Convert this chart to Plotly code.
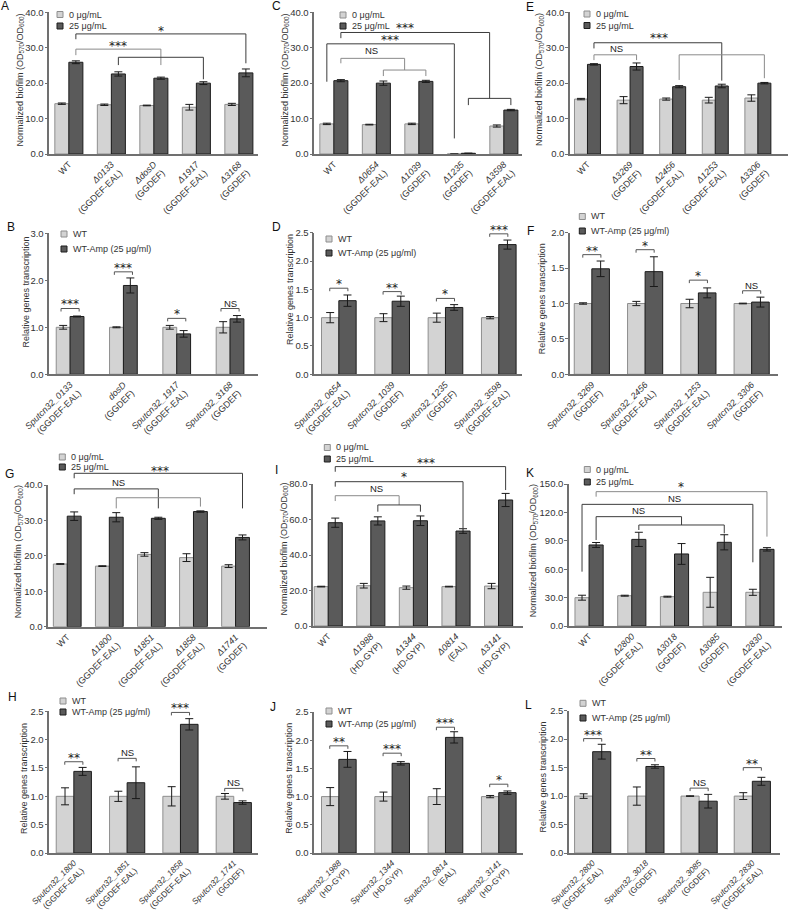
import plotly.graph_objects as go

W, H = 798, 912
FONT = "Arial, 'Liberation Sans', Helvetica, sans-serif"
STAR_FONT = "'DejaVu Sans', Arial, sans-serif"

# ---------------- data ----------------
A_labels = ["WT", "<i>Δ0133</i><br>(GGDEF-EAL)", "<i>ΔdosD</i><br>(GGDEF)",
            "<i>Δ1917</i><br>(GGDEF-EAL)", "<i>Δ3168</i><br>(GGDEF)"]
A_0 = [14.2, 13.9, 13.7, 13.2, 14.0]
A_0_err = [0.2, 0.2, 0.1, 0.8, 0.3]
A_25 = [25.9, 22.6, 21.4, 20.0, 22.9]
A_25_err = [0.4, 0.6, 0.3, 0.4, 1.1]

B_labels = ["<i>Sputcn32_0133</i><br>(GGDEF-EAL)", "<i>dosD</i><br>(GGDEF)",
            "<i>Sputcn32_1917</i><br>(GGDEF-EAL)", "<i>Sputcn32_3168</i><br>(GGDEF)"]
B_wt = [1.0, 1.0, 1.0, 1.0]
B_wt_err = [0.04, 0.01, 0.04, 0.12]
B_amp = [1.23, 1.89, 0.86, 1.18]
B_amp_err = [0.01, 0.16, 0.07, 0.07]
B_sig = ["***", "***", "*", "NS"]

C_labels = ["WT", "<i>Δ0654</i><br>(GGDEF-EAL)", "<i>Δ1039</i><br>(GGDEF)",
            "<i>Δ1235</i><br>(GGDEF)", "<i>Δ3598</i><br>(GGDEF-EAL)"]
C_0 = [8.5, 8.3, 8.5, 0.0, 7.9]
C_0_err = [0.2, 0.1, 0.2, 0.0, 0.3]
C_25 = [20.7, 20.0, 20.5, 0.2, 12.4]
C_25_err = [0.3, 0.6, 0.3, 0.05, 0.2]

D_labels = ["<i>Sputcn32_0654</i><br>(GGDEF-EAL)", "<i>Sputcn32_1039</i><br>(GGDEF)",
            "<i>Sputcn32_1235</i><br>(GGDEF)", "<i>Sputcn32_3598</i><br>(GGDEF-EAL)"]
D_wt = [1.0, 1.0, 1.0, 1.0]
D_wt_err = [0.09, 0.07, 0.08, 0.02]
D_amp = [1.30, 1.29, 1.18, 2.29]
D_amp_err = [0.10, 0.09, 0.05, 0.08]
D_sig = ["*", "**", "*", "***"]

E_labels = ["WT", "<i>Δ3269</i><br>(GGDEF)", "<i>Δ2456</i><br>(GGDEF-EAL)",
            "<i>Δ1253</i><br>(GGDEF-EAL)", "<i>Δ3306</i><br>(GGDEF)"]
E_0 = [15.5, 15.2, 15.5, 15.2, 15.8]
E_0_err = [0.2, 1.0, 0.3, 0.8, 0.9]
E_25 = [25.3, 24.7, 19.0, 19.2, 20.0]
E_25_err = [0.2, 1.0, 0.3, 0.5, 0.2]

F_labels = ["<i>Sputcn32_3269</i><br>(GGDEF)", "<i>Sputcn32_2456</i><br>(GGDEF-EAL)",
            "<i>Sputcn32_1253</i><br>(GGDEF-EAL)", "<i>Sputcn32_3306</i><br>(GGDEF)"]
F_wt = [1.0, 1.0, 1.0, 1.0]
F_wt_err = [0.01, 0.03, 0.06, 0.005]
F_amp = [1.49, 1.45, 1.15, 1.02]
F_amp_err = [0.11, 0.21, 0.07, 0.07]
F_sig = ["**", "*", "*", "NS"]

G_labels = ["WT", "<i>Δ1800</i><br>(GGDEF-EAL)", "<i>Δ1851</i><br>(GGDEF-EAL)",
            "<i>Δ1858</i><br>(GGDEF-EAL)", "<i>Δ1741</i><br>(GGDEF)"]
G_0 = [17.7, 17.1, 20.4, 19.5, 17.1]
G_0_err = [0.1, 0.1, 0.5, 1.1, 0.4]
G_25 = [31.2, 30.9, 30.6, 32.5, 25.2]
G_25_err = [1.2, 1.3, 0.3, 0.2, 0.7]

H_labels = ["<i>Sputcn32_1800</i><br>(GGDEF-EAL)", "<i>Sputcn32_1851</i><br>(GGDEF-EAL)",
            "<i>Sputcn32_1858</i><br>(GGDEF-EAL)", "<i>Sputcn32_1741</i><br>(GGDEF)"]
H_wt = [1.0, 1.0, 1.0, 1.0]
H_wt_err = [0.15, 0.09, 0.17, 0.05]
H_amp = [1.44, 1.24, 2.27, 0.89]
H_amp_err = [0.07, 0.28, 0.10, 0.03]
H_sig = ["**", "NS", "***", "NS"]

I_labels = ["WT", "<i>Δ1988</i><br>(HD-GYP)", "<i>Δ1344</i><br>(HD-GYP)",
            "<i>Δ0814</i><br>(EAL)", "<i>Δ3141</i><br>(HD-GYP)"]
I_0 = [22.2, 22.7, 21.6, 22.2, 22.5]
I_0_err = [0.2, 1.3, 0.9, 0.2, 1.5]
I_25 = [58.2, 59.2, 59.3, 53.5, 71.0]
I_25_err = [2.6, 2.3, 2.7, 1.3, 3.7]

J_labels = ["<i>Sputcn32_1988</i><br>(HD-GYP)", "<i>Sputcn32_1344</i><br>(HD-GYP)",
            "<i>Sputcn32_0814</i><br>(EAL)", "<i>Sputcn32_3141</i><br>(HD-GYP)"]
J_wt = [1.0, 1.0, 1.0, 1.0]
J_wt_err = [0.16, 0.08, 0.14, 0.02]
J_amp = [1.66, 1.59, 2.05, 1.07]
J_amp_err = [0.14, 0.03, 0.10, 0.03]
J_sig = ["**", "***", "***", "*"]

K_labels = ["WT", "<i>Δ2800</i><br>(GGDEF-EAL)", "<i>Δ3018</i><br>(GGDEF)",
            "<i>Δ3085</i><br>(GGDEF)", "<i>Δ2830</i><br>(GGDEF-EAL)"]
K_0 = [29.9, 32.0, 31.0, 35.6, 35.6]
K_0_err = [2.6, 0.5, 0.5, 15.8, 3.2]
K_25 = [85.6, 91.5, 76.1, 88.4, 81.0]
K_25_err = [2.6, 7.5, 11.0, 8.0, 1.8]

L_labels = ["<i>Sputcn32_2800</i><br>(GGDEF-EAL)", "<i>Sputcn32_3018</i><br>(GGDEF)",
            "<i>Sputcn32_3085</i><br>(GGDEF)", "<i>Sputcn32_2830</i><br>(GGDEF-EAL)"]
L_wt = [1.0, 1.0, 1.0, 1.0]
L_wt_err = [0.04, 0.16, 0.005, 0.06]
L_amp = [1.78, 1.52, 0.91, 1.26]
L_amp_err = [0.13, 0.03, 0.12, 0.07]
L_sig = ["***", "**", "NS", "**"]

BIO_LEGEND = ["0 μg/mL", "25 μg/mL"]
TX_LEGEND = ["WT", "WT-Amp (25 μg/ml)"]
BIO_TITLE = "Normalized biofilm (OD<sub>570</sub>/OD<sub>600</sub>)"
TX_TITLE = "Relative genes transcription"

# ---------------- styles ----------------
LIGHT, LIGHT_LINE = "#d3d3d3", "#8e8e8e"
DARK, DARK_LINE = "#5a5a5a", "#1c1c1c"
AXIS = "#707070"
TXT = "#333333"
ERR = "#1a1a1a"
BK, BG = "#3c3c3c", "#8a8a8a"

# ---------------- panel layout (pixel geometry) ----------------
panels = [
    dict(letter=("A", 5, 6), kind="bio", labels=A_labels, v=(A_0, A_0_err, A_25, A_25_err),
         dom=(49.3, 258.0, 12.3, 154.0), xr=(-0.46, 4.45), bw=0.33, ymax=40, dtick=10,
         leg=(57, 14.5, 26.0), xfont=9, ytitle=(19.5, 80),
         brackets=[([(0, 1, 32.4), (0, 1, 33.9), (4, 1, 33.9), (4, 1, 25.6)], BK),
                   ([(0, 1, 27.9), (0, 1, 29.6), (2, 1, 29.6), (2, 1, 25.1)], BG),
                   ([(1, 1, 25.1), (1, 1, 27.3), (3, 1, 27.3), (3, 1, 21.1)], BK)],
         texts=[("*", 2.165, 35.5), ("***", 1.165, 31.3)]),
    dict(letter=("B", 11, 227), kind="tx", labels=B_labels, v=(B_wt, B_wt_err, B_amp, B_amp_err),
         dom=(49.3, 258.3, 233.3, 374.3), xr=(-0.39, 3.53), bw=0.26, ymax=3.0, dtick=1.0,
         leg=(61, 234, 249), xfont=9, ytitle=(25.0, 292.5),
         sig=B_sig, sig_y=[1.40, 2.18, 1.19, 1.40]),
    dict(letter=("C", 276, 6), kind="bio", labels=C_labels, v=(C_0, C_0_err, C_25, C_25_err),
         dom=(314.3, 521.7, 12.3, 154.0), xr=(-0.46, 4.42), bw=0.33, ymax=40, dtick=10,
         leg=(340, 15, 26), xfont=9, ytitle=(284.5, 80),
         brackets=[([(0, 1, 32.7), (0, 1, 34.3), (3.665, 0, 34.3), (3.665, 0, 15.7)], BK),
                   ([(3, 1, 13.8), (3, 1, 15.7), (4, 1, 15.7), (4, 1, 13.8)], BK),
                   ([(0, -1, 20.4), (0, -1, 31.1), (3, -1, 31.1), (3, -1, 4.4)], BK),
                   ([(0, 1, 25.6), (0, 1, 27.0), (1.665, 0, 27.0), (1.665, 0, 23.7)], BG),
                   ([(1, 1, 22.0), (1, 1, 23.7), (2, 1, 23.7), (2, 1, 22.0)], BG)],
         texts=[("***", 1.67, 36.4), ("***", 1.32, 32.9), ("NS", 0.89, 29.2)]),
    dict(letter=("D", 276, 227), kind="tx", labels=D_labels, v=(D_wt, D_wt_err, D_amp, D_amp_err),
         dom=(314.3, 521.7, 232.7, 374.3), xr=(-0.46, 3.43), bw=0.325, ymax=2.5, dtick=0.5,
         leg=(326, 239, 253), xfont=9, ytitle=(290.0, 290),
         sig=D_sig, sig_y=[1.52, 1.46, 1.34, 2.48]),
    dict(letter=("E", 530, 7), kind="bio", labels=E_labels, v=(E_0, E_0_err, E_25, E_25_err),
         dom=(570.0, 787.7, 12.3, 154.0), xr=(-0.41, 4.70), bw=0.305, ymax=40, dtick=10,
         leg=(584, 14, 25.5), xfont=9, ytitle=(539.0, 80),
         brackets=[([(0, 1, 29.8), (0, 1, 31.4), (3, 1, 31.4), (3, 1, 20.7)], BK),
                   ([(2, 1, 20.9), (2, 1, 28.0), (4, 1, 28.0), (4, 1, 21.4)], BG),
                   ([(0, 1, 26.5), (0, 1, 28.0), (1, 1, 28.0), (1, 1, 26.5)], BG)],
         texts=[("***", 1.67, 33.6), ("NS", 0.67, 29.8)]),
    dict(letter=("F", 530, 231), kind="tx", labels=F_labels, v=(F_wt, F_wt_err, F_amp, F_amp_err),
         dom=(570.0, 778.3, 232.7, 374.3), xr=(-0.41, 3.50), bw=0.33, ymax=2.0, dtick=0.5,
         leg=(579.3, 216.5, 231), xfont=9, ytitle=(542.3, 299),
         sig=F_sig, sig_y=[1.69, 1.76, 1.33, 1.18]),
    dict(letter=("G", 9, 474), kind="bio", labels=G_labels, v=(G_0, G_0_err, G_25, G_25_err),
         dom=(48.3, 266.7, 485.0, 626.7), xr=(-0.45, 4.74), bw=0.33, ymax=40, dtick=10,
         leg=(59.3, 457, 467), xfont=9, ytitle=(18.5, 551.7),
         brackets=[([(0, 1, 41.9), (0, 1, 43.3), (4, 1, 43.3), (4, 1, 33.4)], BK),
                   ([(0, 1, 37.4), (0, 1, 38.9), (2, 1, 38.9), (2, 1, 33.4)], BK),
                   ([(1, 1, 33.4), (1, 1, 36.4), (3, 1, 36.4), (3, 1, 33.9)], BG)],
         texts=[("***", 2.2, 44.9), ("NS", 1.21, 40.8)]),
    dict(letter=("H", 12, 697), kind="tx", labels=H_labels, v=(H_wt, H_wt_err, H_amp, H_amp_err),
         dom=(49.3, 258.3, 711.3, 853.0), xr=(-0.46, 3.46), bw=0.33, ymax=2.5, dtick=0.5,
         leg=(60, 701, 712), xfont=8.4, ytitle=(24.0, 779),
         sig=H_sig, sig_y=[1.61, 1.67, 2.48, 1.14]),
    dict(letter=("I", 276, 470), kind="bio", labels=I_labels, v=(I_0, I_0_err, I_25, I_25_err),
         dom=(313.3, 523.3, 484.0, 626.0), xr=(-0.35, 4.58), bw=0.33, ymax=80, dtick=20,
         leg=(324.3, 447.5, 459), xfont=9, ytitle=(283.5, 549),
         brackets=[([(0, 1, 86.9), (0, 1, 89.8), (4, 1, 89.8), (4, 1, 76.6)], BK),
                   ([(0, 1, 78.5), (0, 1, 81.3), (3, 1, 81.3), (3, 1, 55.0)], BK),
                   ([(0, 1, 70.4), (0, 1, 73.4), (1.665, 0, 73.4), (1.665, 0, 68.2)], BG),
                   ([(1, 1, 64.4), (1, 1, 68.2), (2, 1, 68.2), (2, 1, 64.4)], BK)],
         texts=[("***", 2.29, 93.5), ("*", 1.78, 85.4), ("NS", 1.14, 77.6)]),
    dict(letter=("J", 273, 707), kind="tx", labels=J_labels, v=(J_wt, J_wt_err, J_amp, J_amp_err),
         dom=(314.3, 523.3, 712.0, 853.0), xr=(-0.46, 3.46), bw=0.325, ymax=2.5, dtick=0.5,
         leg=(326, 711, 724), xfont=8.4, ytitle=(289.5, 778.3),
         sig=J_sig, sig_y=[1.90, 1.77, 2.23, 1.22]),
    dict(letter=("K", 530, 473), kind="bio", labels=K_labels, v=(K_0, K_0_err, K_25, K_25_err),
         dom=(569.0, 781.7, 484.0, 626.0), xr=(-0.47, 4.51), bw=0.33, ymax=150, dtick=30,
         leg=(584.3, 469.5, 482), xfont=9, ytitle=(533.5, 550.7),
         brackets=[([(0, 1, 136.6), (0, 1, 141.9), (4, 1, 141.9), (4, 1, 94.4)], BG),
                   ([(0, -1, 57.4), (0, -1, 128.5), (4, -1, 128.5), (4, -1, 67.3)], BK),
                   ([(0, 1, 90.8), (0, 1, 115.5), (2.165, 0, 115.5), (2.165, 0, 106.7)], BK),
                   ([(1, 1, 101.4), (1, 1, 106.7), (3, 1, 106.7), (3, 1, 97.9)], BK)],
         texts=[("*", 2.15, 150.5), ("NS", 2.01, 135.0), ("NS", 1.155, 122.5)]),
    dict(letter=("L", 528, 705), kind="tx", labels=L_labels, v=(L_wt, L_wt_err, L_amp, L_amp_err),
         dom=(569.0, 780.0, 710.7, 853.0), xr=(-0.445, 3.52), bw=0.34, ymax=2.5, dtick=0.5,
         leg=(580, 703.3, 718), xfont=8.4, ytitle=(542, 777.5),
         sig=L_sig, sig_y=[2.01, 1.66, 1.14, 1.50]),
]


def px_x(p, x):
    x0, x1, _, _ = p["dom"]
    r0, r1 = p["xr"]
    return x0 + (x - r0) / (r1 - r0) * (x1 - x0)


def px_y(p, y):
    _, _, y0, y1 = p["dom"]
    return y1 - y / p["ymax"] * (y1 - y0)


def ppx(px):
    return px / W


def ppy(py):
    return 1 - py / H


fig = go.Figure()
layout = dict(
    width=W, height=H, template="none", showlegend=False,
    margin=dict(l=0, r=0, t=0, b=0),
    paper_bgcolor="white", plot_bgcolor="rgba(0,0,0,0)",
    font=dict(family=FONT, color=TXT, size=9),
)
shapes = []
annotations = []


def add_text(txt, cx_px, cy_px):
    star = "*" in txt
    annotations.append(dict(
        text=txt, x=ppx(cx_px), y=ppy(cy_px + (3.0 if star else 0)),
        xref="paper", yref="paper", xanchor="center", yanchor="middle",
        showarrow=False,
        font=dict(size=12 if star else 9.5, color="#222222",
                  family=STAR_FONT if star else FONT)))


for k, p in enumerate(panels, start=1):
    xa = "x" if k == 1 else f"x{k}"
    ya = "y" if k == 1 else f"y{k}"
    n = len(p["labels"])
    xs = list(range(n))
    v0, e0, v1, e1 = p["v"]
    names = BIO_LEGEND if p["kind"] == "bio" else TX_LEGEND
    bw = p["bw"]

    fig.add_trace(go.Bar(
        x=xs, y=v0, width=bw, offset=-bw, name=names[0], xaxis=xa, yaxis=ya,
        marker=dict(color=LIGHT, line=dict(color=LIGHT_LINE, width=1)),
        error_y=dict(type="data", array=e0, color=ERR, thickness=1, width=4)))
    fig.add_trace(go.Bar(
        x=xs, y=v1, width=bw, offset=0, name=names[1], xaxis=xa, yaxis=ya,
        marker=dict(color=DARK, line=dict(color=DARK_LINE, width=1)),
        error_y=dict(type="data", array=e1, color=ERR, thickness=1, width=4)))

    x0, x1, y0, y1 = p["dom"]
    ntick = int(round(p["ymax"] / p["dtick"]))
    yt = [i * p["dtick"] for i in range(ntick + 1)]
    layout["xaxis" if k == 1 else f"xaxis{k}"] = dict(
        domain=[ppx(x0), ppx(x1)], range=list(p["xr"]), anchor=ya,
        showline=True, linecolor=AXIS, linewidth=1.5, ticks="",
        tickvals=xs, ticktext=p["labels"], tickangle=-45,
        tickfont=dict(size=p["xfont"], color=TXT, family=FONT),
        showgrid=False, zeroline=False, automargin=False)
    layout["yaxis" if k == 1 else f"yaxis{k}"] = dict(
        domain=[ppy(y1), ppy(y0)], range=[0, p["ymax"]], anchor=xa,
        showline=True, linecolor=AXIS, linewidth=1.5,
        ticks="outside", ticklen=3, tickcolor=AXIS, tickwidth=1, ticklabelstandoff=-1,
        tickvals=yt, tickformat=".1f",
        tickfont=dict(size=9.5, color=TXT, family=FONT),
        showgrid=False, zeroline=False, automargin=False)

    # y-axis title (rotated text)
    tx_, ty_ = p["ytitle"]
    annotations.append(dict(text=BIO_TITLE if p["kind"] == "bio" else TX_TITLE,
                            x=ppx(tx_), y=ppy(ty_), xref="paper", yref="paper",
                            xanchor="center", yanchor="middle", textangle=-90,
                            showarrow=False, font=dict(size=9, color=TXT, family=FONT)))

    # panel letter
    lt, lx, ly = p["letter"]
    annotations.append(dict(text=lt, x=ppx(lx), y=ppy(ly), xref="paper", yref="paper",
                            xanchor="center", yanchor="middle", showarrow=False,
                            font=dict(size=12, color="#111111", family=FONT)))

    # legend (squares + labels)
    sx, ly1, ly2 = p["leg"]
    for j, (yy, col, lcol) in enumerate([(ly1, LIGHT, LIGHT_LINE), (ly2, DARK, DARK_LINE)]):
        shapes.append(dict(type="rect", xref="paper", yref="paper",
                           x0=ppx(sx), x1=ppx(sx + 6), y0=ppy(yy + 3), y1=ppy(yy - 3),
                           fillcolor=col, line=dict(color=lcol, width=1)))
        annotations.append(dict(text=names[j], x=ppx(sx + 10), y=ppy(yy), xref="paper",
                                yref="paper", xanchor="left", yanchor="middle",
                                showarrow=False, font=dict(size=9, color=TXT, family=FONT)))

    if p["kind"] == "bio":
        for pts, col in p["brackets"]:
            coords = []
            for cat, side, yv in pts:
                xv = cat + side * bw / 2
                coords.append((ppx(px_x(p, xv)), ppy(px_y(p, yv))))
            path = "M " + " L ".join(f"{a:.5f},{b:.5f}" for a, b in coords)
            shapes.append(dict(type="path", path=path, xref="paper", yref="paper",
                               line=dict(color=col, width=1)))
        for txt, tx, ty in p["texts"]:
            add_text(txt, px_x(p, tx), px_y(p, ty))
    else:
        half = 0.17
        for i, (s, yv) in enumerate(zip(p["sig"], p["sig_y"])):
            xl, xr_ = px_x(p, i - half), px_x(p, i + half)
            yl = px_y(p, yv)
            path = (f"M {ppx(xl):.5f},{ppy(yl + 3):.5f} L {ppx(xl):.5f},{ppy(yl):.5f} "
                    f"L {ppx(xr_):.5f},{ppy(yl):.5f} L {ppx(xr_):.5f},{ppy(yl + 3):.5f}")
            shapes.append(dict(type="path", path=path, xref="paper", yref="paper",
                               line=dict(color="#555555", width=1)))
            add_text(s, (xl + xr_) / 2, yl - (7 if "*" in s else 5.5))

layout["shapes"] = shapes
layout["annotations"] = annotations
fig.update_layout(**layout)
fig.write_html("out.html")
